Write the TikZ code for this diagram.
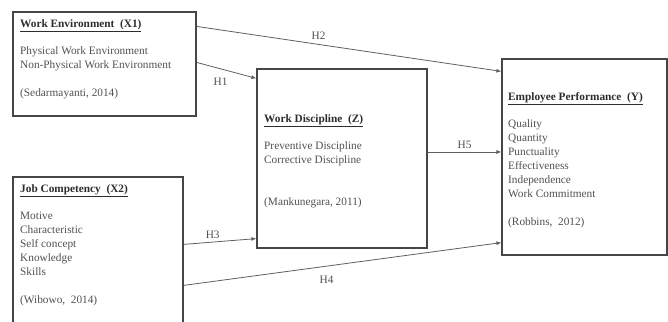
\documentclass[tikz,border=0pt]{standalone}
\usepackage{fontspec}
\setmainfont{Liberation Serif}
\usepackage{xcolor}
\usepackage{tikz}
\usetikzlibrary{calc,positioning,arrows.meta}
\definecolor{boxline}{RGB}{70,70,72}
\definecolor{linkline}{RGB}{95,95,98}
\definecolor{headtext}{RGB}{45,45,47}
\definecolor{bodytext}{RGB}{80,80,82}

\begin{document}
\begin{tikzpicture}[x=1pt, y=-1pt,
 varbox/.style={draw=boxline, line width=1.2pt, rectangle, inner sep=0pt},
 vartext/.style={anchor=north west, align=left, inner sep=0pt,
          font=\fontsize{11.3}{13.9}\selectfont, text=bodytext},
 link/.style={-{Latex[length=5pt,width=4pt]}, draw=linkline, line width=0.8pt},
 hyp/.style={font=\fontsize{11.3}{13.9}\selectfont, text=bodytext, inner sep=1pt}
]
\useasboundingbox (0,0) rectangle (668,321);
% variable boxes
\node[varbox, minimum width=183pt, minimum height=104pt] (x1) at (104.5,64) {};
\node[varbox, minimum width=170pt, minimum height=163pt] (x2) at (98,258.5) {};
\node[varbox, minimum width=170pt, minimum height=179pt] (z) at (342,158.5) {};
\node[varbox, minimum width=165pt, minimum height=196pt] (y) at (584.5,157) {};
% box contents
\node[vartext] (x1txt) at (20,19) {\textcolor{headtext}{\textbf{\underline{Work Environment\ \ (X1)}}}\\[13.9pt]
 Physical Work Environment\\ Non-Physical Work Environment\\[13.9pt] (Sedarmayanti, 2014)};
\node[vartext] (x2txt) at (20,184) {\textcolor{headtext}{\textbf{\underline{Job Competency\ \ (X2)}}}\\[13.9pt]
 Motive\\ Characteristic\\ Self concept\\ Knowledge\\ Skills\\[13.9pt] (Wibowo,\ \ 2014)};
\node[vartext] (ztxt) at (264,114) {\textcolor{headtext}{\textbf{\underline{Work Discipline\ \ (Z)}}}\\[13.9pt]
 Preventive Discipline\\ Corrective Discipline\\[27.8pt] (Mankunegara, 2011)};
\node[vartext] (ytxt) at (508,92) {\textcolor{headtext}{\textbf{\underline{Employee Performance\ \ (Y)}}}\\[13.9pt]
 Quality\\ Quantity\\ Punctuality\\ Effectiveness\\ Independence\\ Work Commitment\\[13.9pt] (Robbins,\ \ 2012)};
% hypotheses
\draw[link] ([yshift=-15pt]x1.north east) -- node[hyp, pos=.4, above=3pt] {H2} ([yshift=-13pt]y.north west);
\draw[link] ([yshift=-51pt]x1.north east) -- node[hyp, pos=.4, below=8pt] {H1} ([yshift=-10pt]z.north west);
\draw[link] ([yshift=-68pt]x2.north east) -- node[hyp, pos=.4, above=2pt] {H3} ([yshift=10pt]z.south west);
\draw[link] ([yshift=-109pt]x2.north east) -- node[hyp, pos=.45, below=9pt] {H4} ([yshift=13pt]y.south west);
\draw[link] ([yshift=6.5pt]z.east) -- node[hyp, midway, above=2pt] {H5} ([yshift=6.5pt]z.east -| y.west);
\end{tikzpicture}
\end{document}
